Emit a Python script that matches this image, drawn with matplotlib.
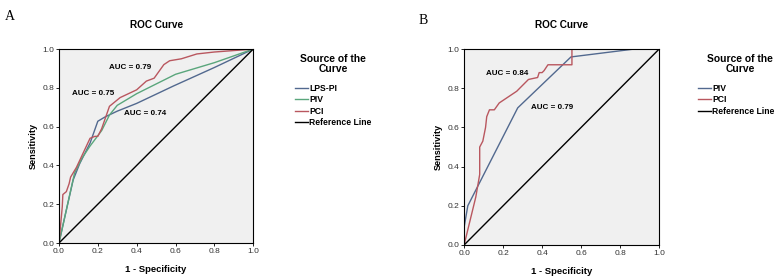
import matplotlib
matplotlib.use("Agg")
import matplotlib.pyplot as plt

plt.rcParams['font.family'] = ['Liberation Sans', 'DejaVu Sans']

# panel A data (1 - specificity, sensitivity)
lps_x = [0, 0.038, 0.073, 0.107, 0.16, 0.2, 0.237, 0.30, 0.40, 0.59, 0.80, 1.0]
lps_y = [0, 0.17, 0.325, 0.41, 0.515, 0.628, 0.65, 0.68, 0.72, 0.81, 0.905, 1.0]

piv_a_x = [0, 0.04, 0.08, 0.12, 0.16, 0.22, 0.26, 0.30, 0.40, 0.60, 0.80, 1.0]
piv_a_y = [0, 0.18, 0.36, 0.44, 0.50, 0.58, 0.66, 0.71, 0.77, 0.87, 0.93, 1.0]

pci_a_x = [0, 0.017, 0.02, 0.038, 0.052, 0.06, 0.09, 0.16, 0.185, 0.2, 0.22, 0.26,
           0.315, 0.40, 0.45, 0.49, 0.54, 0.57, 0.63, 0.71, 0.80, 1.0]
pci_a_y = [0, 0.187, 0.25, 0.265, 0.305, 0.34, 0.39, 0.54, 0.55, 0.55, 0.59, 0.705,
           0.75, 0.79, 0.835, 0.85, 0.92, 0.94, 0.95, 0.975, 0.985, 1.0]

# panel B data
piv_b_x = [0, 0, 0.019, 0.275, 0.548, 0.87, 1.0]
piv_b_y = [0, 0.09, 0.2, 0.70, 0.96, 1.0, 1.0]

pci_b_x = [0, 0.06, 0.08, 0.08, 0.096, 0.11, 0.116, 0.13, 0.155, 0.18, 0.27, 0.33,
           0.377, 0.385, 0.40, 0.41, 0.43, 0.50, 0.553, 0.553, 1.0]
pci_b_y = [0, 0.245, 0.36, 0.50, 0.53, 0.60, 0.655, 0.69, 0.69, 0.725, 0.785, 0.845,
           0.855, 0.88, 0.88, 0.89, 0.92, 0.92, 0.92, 1.0, 1.0]

ticks = [0.0, 0.2, 0.4, 0.6, 0.8, 1.0]
tick_labels = ['0.0', '0.2', '0.4', '0.6', '0.8', '1.0']

BLUE = '#52698f'
GREEN = '#5aa67c'
RED = '#b9575f'


def style(ax):
    ax.set_facecolor('#f0f0f0')
    ax.set_xlim(0, 1)
    ax.set_ylim(0, 1)
    ax.set_xticks(ticks)
    ax.set_yticks(ticks)
    ax.set_xticklabels(tick_labels, fontsize=6, color='#333333')
    ax.set_yticklabels(tick_labels, fontsize=6, color='#333333')
    ax.tick_params(length=2.5, width=0.6, pad=1)
    for s in ax.spines.values():
        s.set_linewidth(0.8)
    ax.set_xlabel('1 - Specificity', fontsize=6.8, fontweight='bold', labelpad=7)
    ax.set_ylabel('Sensitivity', fontsize=6.6, fontweight='bold', labelpad=3)
    ax.set_title('ROC Curve', fontsize=7.2, fontweight='bold', pad=15)


def add_legend(ax, x, title_x):
    # legend title drawn separately so it sits centred like the SPSS one
    fig.text(title_x, 0.769, 'Source of the\nCurve', ha='center', va='center',
             multialignment='center', linespacing=1.0,
             fontsize=7.4, fontweight='bold')
    ax.legend(loc='upper left', bbox_to_anchor=(x, 0.70),
              bbox_transform=fig.transFigure, frameon=False, handlelength=1.5,
              handletextpad=0.15, labelspacing=0.3,
              borderaxespad=0, borderpad=0,
              prop={'size': 6.2, 'weight': 'bold'})


fig = plt.figure(figsize=(7.8, 2.79), dpi=100)

axA = fig.add_axes([0.0756, 0.129, 0.249, 0.695])
axA.plot(lps_x, lps_y, color=BLUE, lw=1, label='LPS-PI')
axA.plot(piv_a_x, piv_a_y, color=GREEN, lw=1, label='PIV')
axA.plot(pci_a_x, pci_a_y, color=RED, lw=1, label='PCI')
axA.plot([0, 1], [0, 1], color='black', lw=1, label='Reference Line')
style(axA)
axA.text(0.366, 0.907, 'AUC = 0.79', fontsize=5.8, fontweight='bold', ha='center', va='center')
axA.text(0.175, 0.773, 'AUC = 0.75', fontsize=5.8, fontweight='bold', ha='center', va='center')
axA.text(0.443, 0.67, 'AUC = 0.74', fontsize=5.8, fontweight='bold', ha='center', va='center')
add_legend(axA, 295 / 780, 333 / 780)

axB = fig.add_axes([0.595, 0.122, 0.25, 0.702])
axB.plot(piv_b_x, piv_b_y, color=BLUE, lw=1, label='PIV')
axB.plot(pci_b_x, pci_b_y, color=RED, lw=1, label='PCI')
axB.plot([0, 1], [0, 1], color='black', lw=1, label='Reference Line')
style(axB)
axB.text(0.22, 0.877, 'AUC = 0.84', fontsize=5.8, fontweight='bold', ha='center', va='center')
axB.text(0.45, 0.70, 'AUC = 0.79', fontsize=5.8, fontweight='bold', ha='center', va='center')
add_legend(axB, 698 / 780, 740 / 780)

fig.text(0.006, 0.965, 'A', fontsize=10, family='Liberation Serif', va='top')
fig.text(0.536, 0.95, 'B', fontsize=10, family='Liberation Serif', va='top')

fig.savefig('out.png', dpi=100)
